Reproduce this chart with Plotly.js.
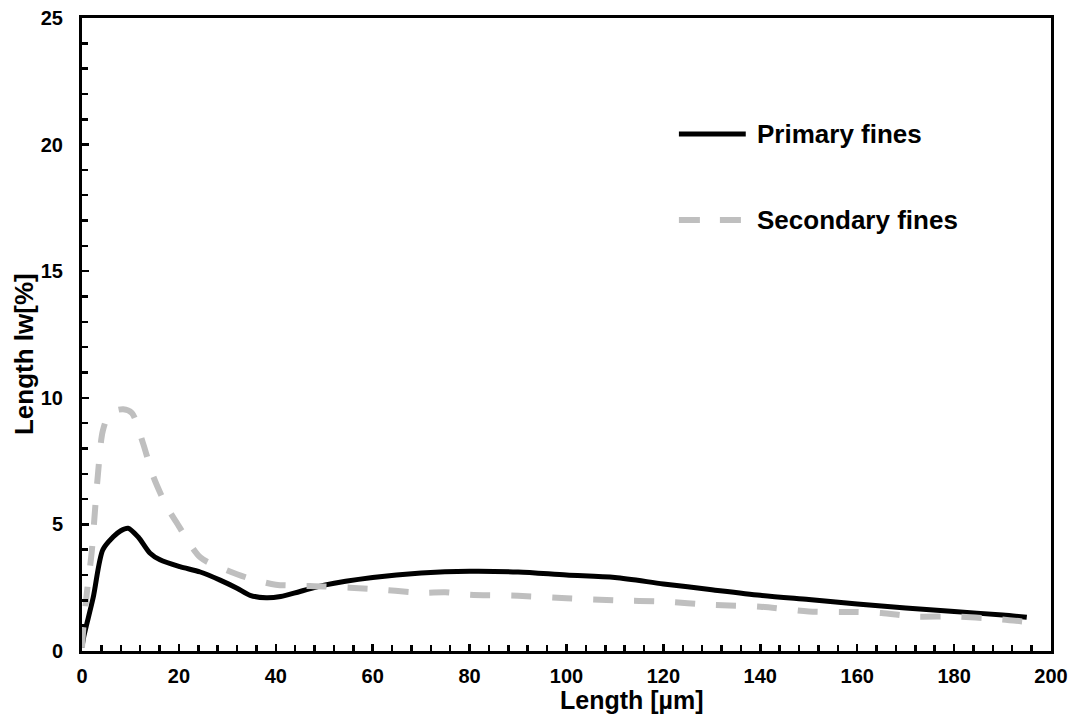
<!DOCTYPE html>
<html>
<head>
<meta charset="utf-8">
<script src="https://cdn.plot.ly/plotly-3.0.1.min.js"></script>
<style>html,body{margin:0;padding:0;background:#fff;}#chart{width:1073px;height:717px;}</style>
</head>
<body>
<div id="chart"></div>
<script>
// Data
var primaryX = [0, 0.4, 2.3, 4.3, 6.4, 8, 9.5, 11.6, 14, 16.1, 20.2, 24.4, 28.5, 32, 34.7, 38, 41, 45, 50, 60, 70, 80, 90, 100, 110, 120, 130, 140, 150, 160, 170, 180, 190, 195];
var primaryY = [0.15, 0.6, 2.1, 4.0, 4.5, 4.75, 4.85, 4.5, 3.87, 3.6, 3.33, 3.12, 2.8, 2.48, 2.2, 2.1, 2.15, 2.35, 2.6, 2.9, 3.08, 3.15, 3.12, 3.0, 2.9, 2.65, 2.42, 2.2, 2.03, 1.86, 1.7, 1.56, 1.42, 1.33];

var secondaryX = [0, 0.3, 1, 2, 2.7, 3.3, 4.3, 5.8, 8.5, 10.3, 12.6, 14.7, 17.5, 19.6, 24.4, 28.5, 34, 40, 45, 50, 60, 70, 75, 80, 90, 100, 110, 120, 130, 140, 150, 160, 165, 172, 180, 189, 195];
var secondaryY = [0.15, 0.95, 2.3, 3.9, 5.6, 7.0, 8.7, 9.4, 9.55, 9.4, 8.2, 6.9, 5.7, 5.05, 3.7, 3.3, 2.9, 2.62, 2.58, 2.55, 2.45, 2.3, 2.32, 2.22, 2.18, 2.08, 2.0, 1.95, 1.82, 1.75, 1.56, 1.54, 1.5, 1.36, 1.36, 1.26, 1.15];

var seriesNames = ['Primary fines', 'Secondary fines'];
var xTitle = 'Length [µm]';
var yTitle = 'Length lw[%]';

var FONT = 'Liberation Sans, Arial, sans-serif';

var traces = [
  {x: primaryX, y: primaryY, name: seriesNames[0], mode: 'lines', type: 'scatter',
   line: {color: '#000000', width: 5, shape: 'spline', smoothing: 0.8}},
  {x: secondaryX, y: secondaryY, name: seriesNames[1], mode: 'lines', type: 'scatter',
   line: {color: '#bfbfbf', width: 6, dash: '20px,21px', shape: 'spline', smoothing: 0.8}}
];

var axisCommon = {
  showgrid: false, zeroline: false, showline: true, linecolor: '#000', linewidth: 3,
  mirror: true, ticks: 'inside', ticklen: 7, tickwidth: 2.5, tickcolor: '#000',
  tickfont: {family: FONT, size: 20, color: '#000', weight: 'bold'},
  fixedrange: true
};

var layout = {
  width: 1073, height: 717,
  margin: {l: 82, r: 22, t: 18, b: 66, autoexpand: false},
  paper_bgcolor: '#fff', plot_bgcolor: '#fff',
  showlegend: false,
  font: {family: FONT, color: '#000'},
  xaxis: Object.assign({}, axisCommon, {
    range: [0, 200], dtick: 20, tick0: 0, ticklabelstandoff: 5,
    minor: {dtick: 4, ticks: 'inside', ticklen: 6, tickwidth: 2.5, tickcolor: '#000', showgrid: false}
  }),
  yaxis: Object.assign({}, axisCommon, {
    range: [0, 25], dtick: 5, tick0: 0, ticklabelstandoff: 12,
    minor: {dtick: 1, ticks: 'inside', ticklen: 6, tickwidth: 2.5, tickcolor: '#000', showgrid: false}
  }),
  shapes: [
    {type: 'line', xref: 'paper', yref: 'paper', x0: 0.616, x1: 0.685, y0: 0.8167, y1: 0.8167,
     line: {color: '#000', width: 5}},
    {type: 'line', xref: 'paper', yref: 'paper', x0: 0.616, x1: 0.682, y0: 0.6809, y1: 0.6809,
     line: {color: '#bfbfbf', width: 6, dash: '21px,20px'}}
  ],
  annotations: [
    {text: '<b>' + seriesNames[0] + '</b>', xref: 'paper', yref: 'paper', x: 0.6945, y: 0.8167,
     xanchor: 'left', yanchor: 'middle', showarrow: false, font: {family: FONT, size: 26, color: '#000'}},
    {text: '<b>' + seriesNames[1] + '</b>', xref: 'paper', yref: 'paper', x: 0.6945, y: 0.6809,
     xanchor: 'left', yanchor: 'middle', showarrow: false, font: {family: FONT, size: 26, color: '#000'}},
    {text: '<b>' + xTitle + '</b>', xref: 'paper', yref: 'paper', x: 0.5676, y: -0.0774,
     xanchor: 'center', yanchor: 'middle', showarrow: false, font: {family: FONT, size: 25, color: '#000'}},
    {text: '<b>' + yTitle + '</b>', xref: 'paper', yref: 'paper', x: -0.0599, y: 0.469, textangle: -90,
     xanchor: 'center', yanchor: 'middle', showarrow: false, font: {family: FONT, size: 26, color: '#000'}}
  ]
};

Plotly.newPlot('chart', traces, layout, {displayModeBar: false, staticPlot: true});
</script>
</body>
</html>
